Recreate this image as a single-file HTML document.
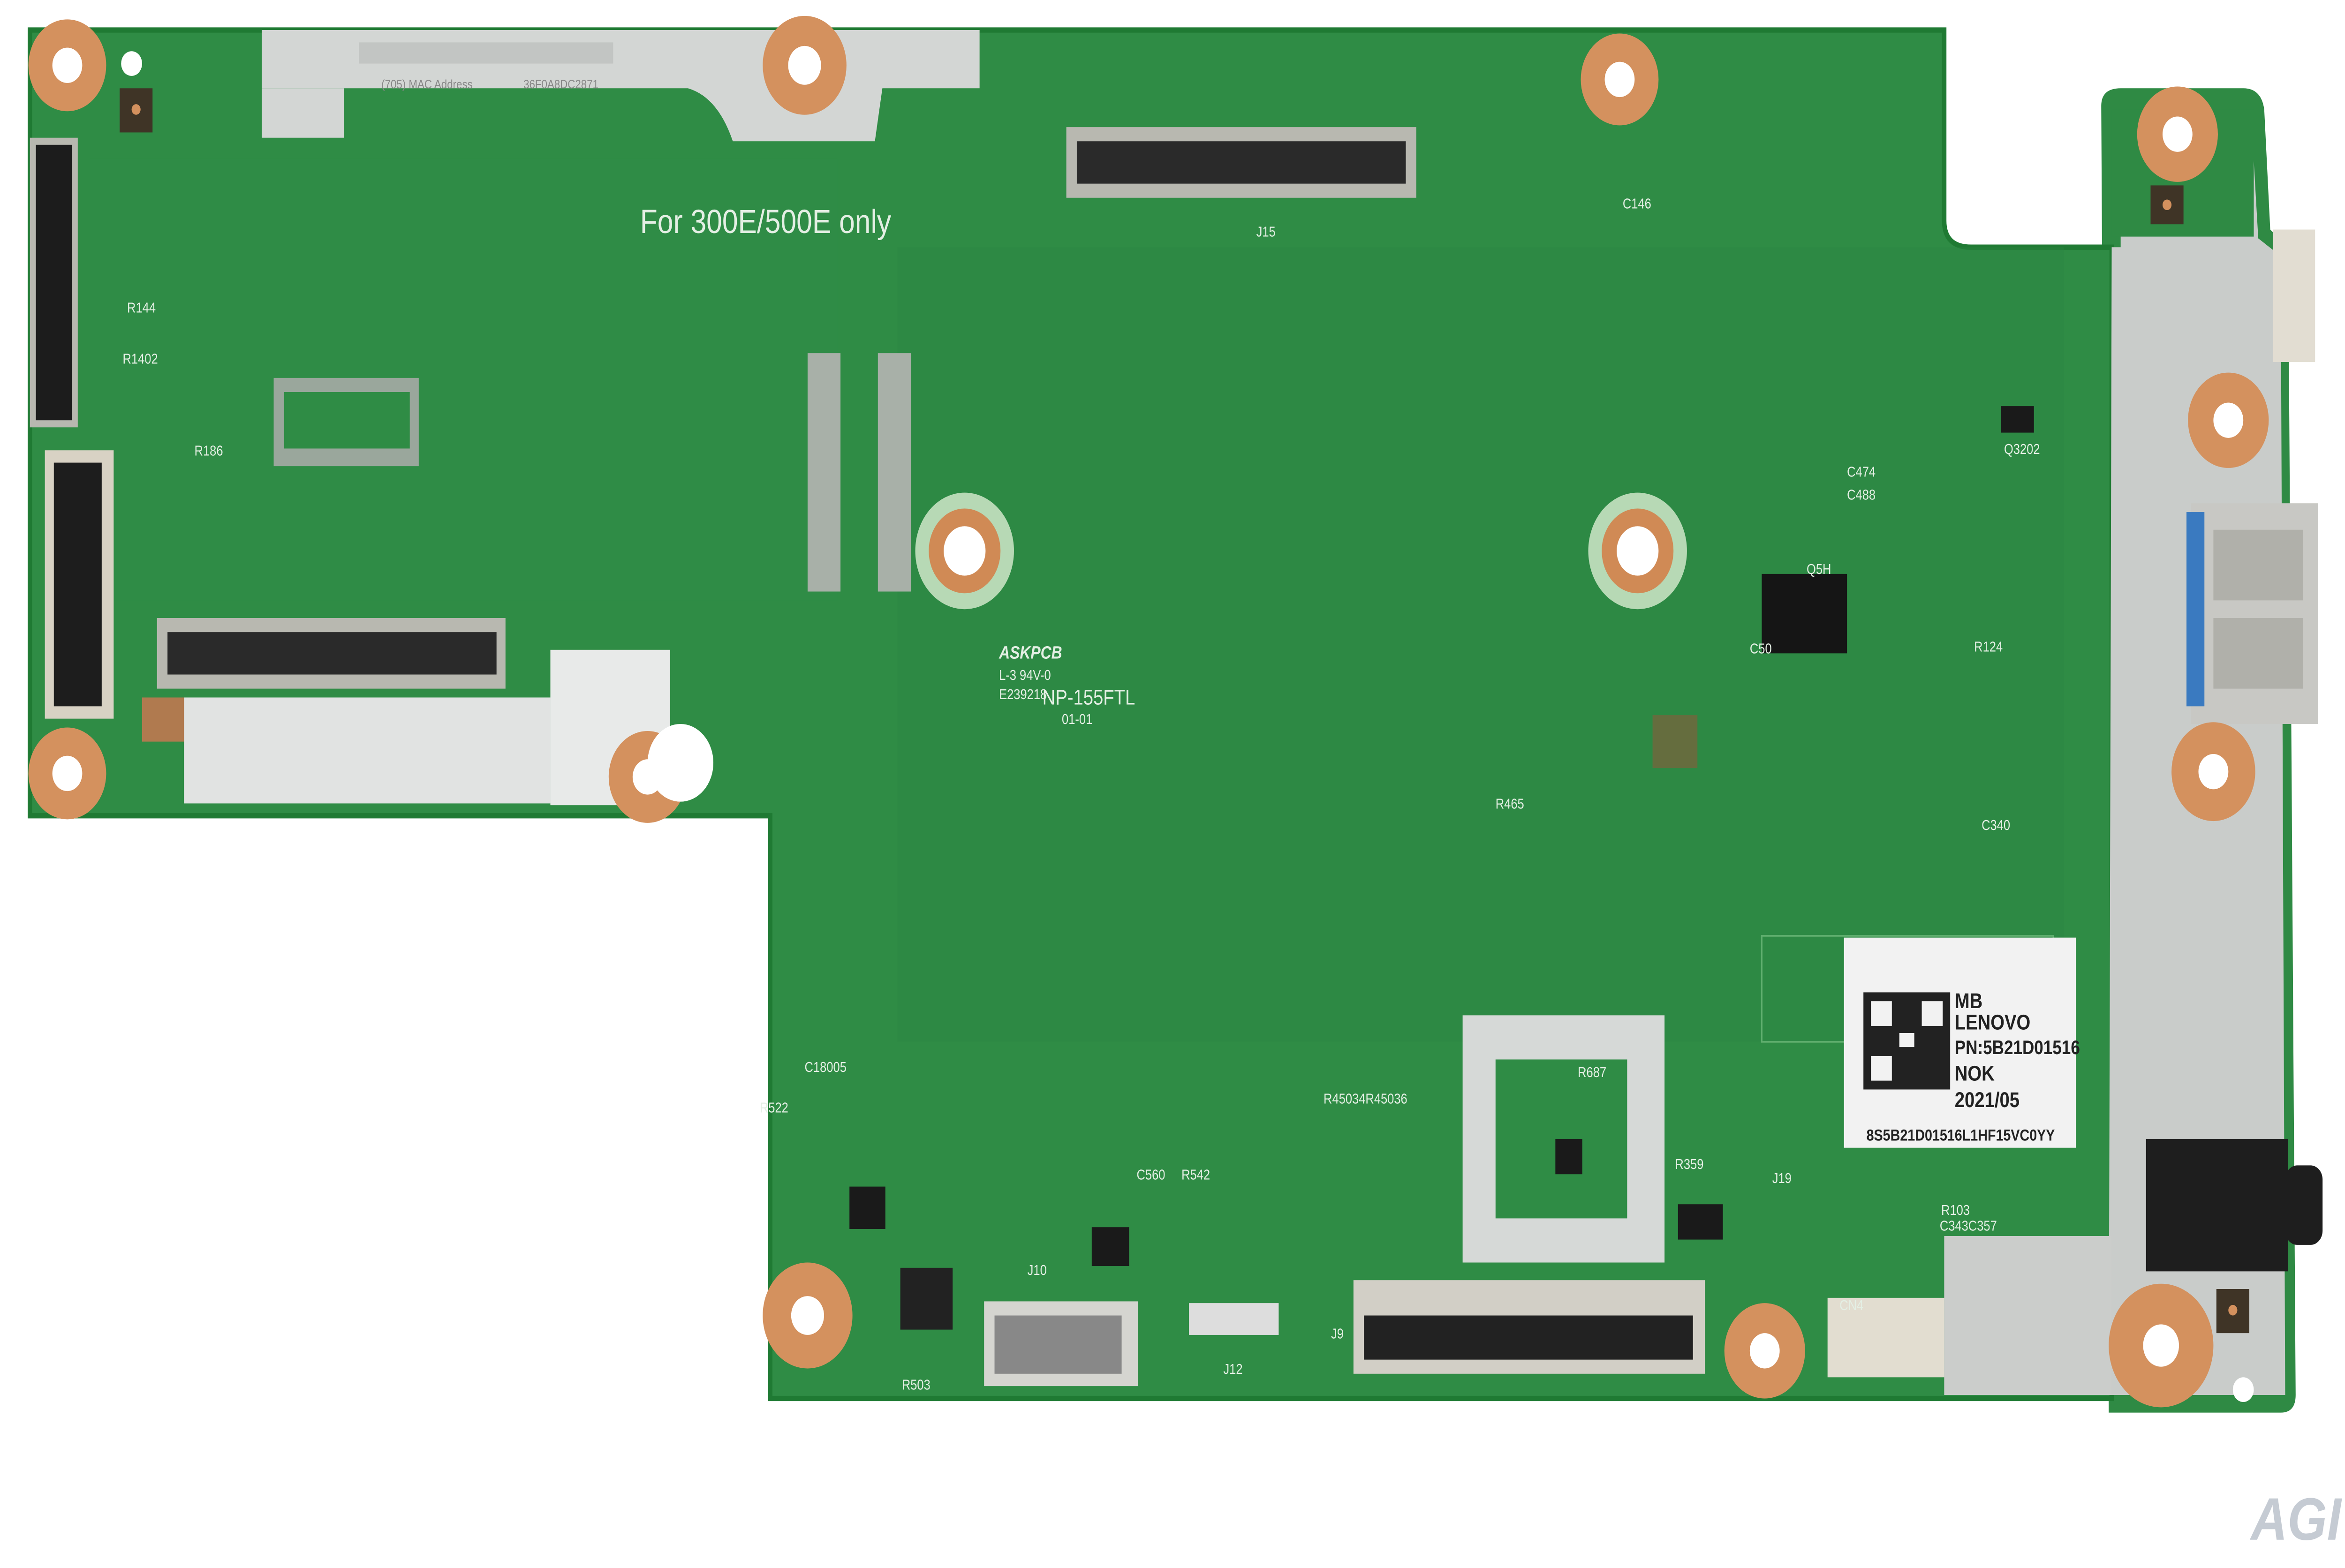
<!DOCTYPE html>
<html><head><meta charset="utf-8"><style>
html,body{margin:0;padding:0;background:#fff;width:100vw;height:100vh;overflow:hidden;}
#s{position:fixed;left:0;top:0;width:100vw;height:100vh;display:block;}
text{font-family:"Liberation Sans",sans-serif;}
</style></head><body>
<svg id="s" viewBox="0 0 1568 888" preserveAspectRatio="none" xmlns="http://www.w3.org/2000/svg">
<rect width="1568" height="888" fill="#ffffff"/>
<path d="M1405,60 Q1405,50 1418,50 L1500,50 Q1512,50 1514,62 L1518,130 L1530,140 L1535,790 Q1535,800 1525,800 L1410,800 Z" fill="#2f8a44"/>
<path d="M20,17 L1300,17 L1300,125 Q1300,140 1318,140 L1412,140 L1412,792 L515,792 L515,462 L20,462 Z" fill="#2f8c45"/>
<path d="M20,17 L1300,17 L1300,125 Q1300,140 1318,140 L1412,140 L1412,792 L515,792 L515,462 L20,462 Z" fill="none" stroke="#1f7a33" stroke-width="3"/>
<path d="M1412,140 L1418,140 L1418,62 L1505,62 L1510,135 L1525,145 L1528,790 L1410,790 Z" fill="#c9ccca"/>
<path d="M1300,700 L1412,700 L1412,790 L1300,790 Z" fill="#cbcdcb"/>
<rect x="1412" y="62" width="95" height="72" fill="#2f8a44"/>
<rect x="600" y="140" width="780" height="450" fill="#2b8541" opacity="0.35"/>
<rect x="60" y="90" width="500" height="250" fill="#33904a" opacity="0.3"/>
<path d="M175,17 L655,17 L655,50 L590,50 L585,80 L490,80 Q480,55 460,50 L175,50 Z" fill="#d3d6d4"/>
<rect x="175" y="50" width="55" height="28" fill="#d3d6d4"/>
<rect x="240" y="24" width="170" height="12" fill="#c2c5c3"/>
<text x="255" y="50" font-size="7" fill="#888">(705) MAC Address</text>
<text x="350" y="50" font-size="7" fill="#888">36F0A8DC2871</text>
<rect x="123" y="395" width="245" height="60" fill="#e1e3e2"/>
<rect x="368" y="368" width="80" height="88" fill="#e8eae9"/>
<rect x="95" y="395" width="28" height="25" fill="#b07a4f"/>
<rect x="978" y="575" width="135" height="140" fill="#d6d9d7"/>
<rect x="1000" y="600" width="88" height="90" fill="#2f8c45"/>
<rect x="713" y="72" width="234" height="40" fill="#b8b8b0"/>
<rect x="720" y="80" width="220" height="24" fill="#2a2a2a"/>
<rect x="105" y="350" width="233" height="40" fill="#b8b8b0"/>
<rect x="112" y="358" width="220" height="24" fill="#2a2a2a"/>
<rect x="20" y="78" width="32" height="164" fill="#b8b8b0"/>
<rect x="24" y="82" width="24" height="156" fill="#1c1c1c"/>
<rect x="30" y="255" width="46" height="152" fill="#d8d2c4"/>
<rect x="36" y="262" width="32" height="138" fill="#1d1d1d"/>
<rect x="905" y="725" width="235" height="53" fill="#d2cfc6"/>
<rect x="912" y="745" width="220" height="25" fill="#222"/>
<rect x="183" y="214" width="97" height="50" fill="#9aa79c"/>
<rect x="190" y="222" width="84" height="32" fill="#2f8c45"/>
<rect x="540" y="200" width="22" height="135" fill="#a8b0a8"/>
<rect x="587" y="200" width="22" height="135" fill="#a8b0a8"/>
<rect x="658" y="737" width="103" height="48" fill="#d5d5d0"/>
<rect x="665" y="745" width="85" height="33" fill="#888"/>
<rect x="795" y="738" width="60" height="18" fill="#ddd"/>
<rect x="1222" y="735" width="78" height="45" fill="#e2ddd0"/>
<rect x="1178" y="325" width="57" height="45" fill="#151515"/>
<rect x="602" y="718" width="35" height="35" fill="#222"/>
<rect x="568" y="672" width="24" height="24" fill="#1a1a1a"/>
<rect x="730" y="695" width="25" height="22" fill="#1a1a1a"/>
<rect x="1122" y="682" width="30" height="20" fill="#1a1a1a"/>
<rect x="1338" y="230" width="22" height="15" fill="#1a1a1a"/>
<rect x="1040" y="645" width="18" height="20" fill="#1a1a1a"/>
<rect x="1105" y="405" width="30" height="30" fill="#8a5a3a" opacity="0.6"/>
<rect x="1178" y="530" width="195" height="60" fill="none" stroke="#5fae6e" stroke-width="1"/>
<rect x="1465" y="285" width="85" height="125" fill="#c8c8c4"/>
<rect x="1462" y="290" width="12" height="110" fill="#3a7ac0"/>
<rect x="1480" y="300" width="60" height="40" fill="#b0b0aa"/>
<rect x="1480" y="350" width="60" height="40" fill="#b0b0aa"/>
<rect x="1435" y="645" width="95" height="75" fill="#1e1e1e"/>
<rect x="1528" y="660" width="25" height="45" rx="8" fill="#1e1e1e"/>
<rect x="1520" y="130" width="28" height="75" fill="#e2ddd2"/>
<g fill="#d4915e">
<circle cx="45" cy="37" r="26"/><circle cx="538" cy="37" r="28"/><circle cx="1083" cy="45" r="26"/>
<circle cx="1456" cy="76" r="27"/><circle cx="1490" cy="238" r="27"/><circle cx="1480" cy="437" r="28"/>
<circle cx="1445" cy="762" r="35"/><circle cx="1180" cy="765" r="27"/><circle cx="540" cy="745" r="30"/>
<circle cx="45" cy="438" r="26"/><circle cx="433" cy="440" r="26"/>
</g>
<circle cx="645" cy="312" r="33" fill="#b7d9b5"/><circle cx="645" cy="312" r="24" fill="#d08a55"/>
<circle cx="1095" cy="312" r="33" fill="#b7d9b5"/><circle cx="1095" cy="312" r="24" fill="#d08a55"/>
<g fill="#ffffff">
<circle cx="45" cy="37" r="10"/><circle cx="538" cy="37" r="11"/><circle cx="1083" cy="45" r="10"/>
<circle cx="1456" cy="76" r="10"/><circle cx="1490" cy="238" r="10"/><circle cx="1480" cy="437" r="10"/>
<circle cx="1445" cy="762" r="12"/><circle cx="1180" cy="765" r="10"/><circle cx="540" cy="745" r="11"/>
<circle cx="45" cy="438" r="10"/><circle cx="433" cy="440" r="10"/>
<circle cx="645" cy="312" r="14"/><circle cx="1095" cy="312" r="14"/>
<circle cx="88" cy="36" r="7"/><circle cx="1500" cy="787" r="7"/>
</g>
<circle cx="455" cy="432" r="22" fill="#fff"/>
<rect x="80" y="50" width="22" height="25" fill="#3f3426"/><circle cx="91" cy="62" r="3" fill="#d4915e"/>
<rect x="1438" y="105" width="22" height="22" fill="#3f3426"/><circle cx="1449" cy="116" r="3" fill="#d4915e"/>
<rect x="1482" y="730" width="22" height="25" fill="#3f3426"/><circle cx="1493" cy="742" r="3" fill="#d4915e"/>
<rect x="1233" y="531" width="155" height="119" fill="#f2f2f2"/>
<rect x="1246" y="562" width="58" height="55" fill="#222"/>
<rect x="1251" y="567" width="14" height="14" fill="#f2f2f2"/><rect x="1285" y="567" width="14" height="14" fill="#f2f2f2"/><rect x="1251" y="598" width="14" height="14" fill="#f2f2f2"/>
<rect x="1270" y="585" width="10" height="8" fill="#f2f2f2"/>
<g font-weight="bold" fill="#222">
<text x="1307" y="571" font-size="12">MB</text>
<text x="1307" y="583" font-size="12">LENOVO</text>
<text x="1307" y="597" font-size="11">PN:5B21D01516</text>
<text x="1307" y="612" font-size="12">NOK</text>
<text x="1307" y="627" font-size="12">2021/05</text>
<text x="1248" y="646" font-size="9">8S5B21D01516L1HF15VC0YY</text>
</g>
<text x="428" y="132" font-family="Liberation Mono" font-size="19" fill="#e4efe4">For 300E/500E only</text>
<g fill="#e4efe4" font-size="8">
<text x="668" y="373" font-style="italic" font-weight="bold" font-size="10">ASKPCB</text>
<text x="668" y="385">L-3 94V-0</text>
<text x="668" y="396">E239218</text>
<text x="697" y="399" font-size="12">NP-155FTL</text>
<text x="710" y="410">01-01</text>
<text x="840" y="134">J15</text><text x="1085" y="118">C146</text>
<text x="85" y="177">R144</text><text x="82" y="206">R1402</text>
<text x="130" y="258">R186</text><text x="1170" y="370">C50</text>
<text x="1208" y="325">Q5H</text><text x="1235" y="270">C474</text><text x="1235" y="283">C488</text>
<text x="1340" y="257">Q3202</text><text x="1320" y="369">R124</text>
<text x="508" y="630">R522</text><text x="538" y="607">C18005</text>
<text x="885" y="625">R45034R45036</text><text x="1120" y="662">R359</text>
<text x="1055" y="610">R687</text><text x="1185" y="670">J19</text>
<text x="1298" y="688">R103</text><text x="1297" y="697">C343C357</text>
<text x="1230" y="742">CN4</text><text x="687" y="722">J10</text>
<text x="890" y="758">J9</text><text x="818" y="778">J12</text>
<text x="603" y="787">R503</text><text x="1000" y="458">R465</text>
<text x="1325" y="470">C340</text><text x="760" y="668">C560</text><text x="790" y="668">R542</text>
</g>
<text x="1505" y="872" font-style="italic" font-weight="bold" font-size="34" fill="#c5cbd3">AGI</text>
</svg>
</body></html>
